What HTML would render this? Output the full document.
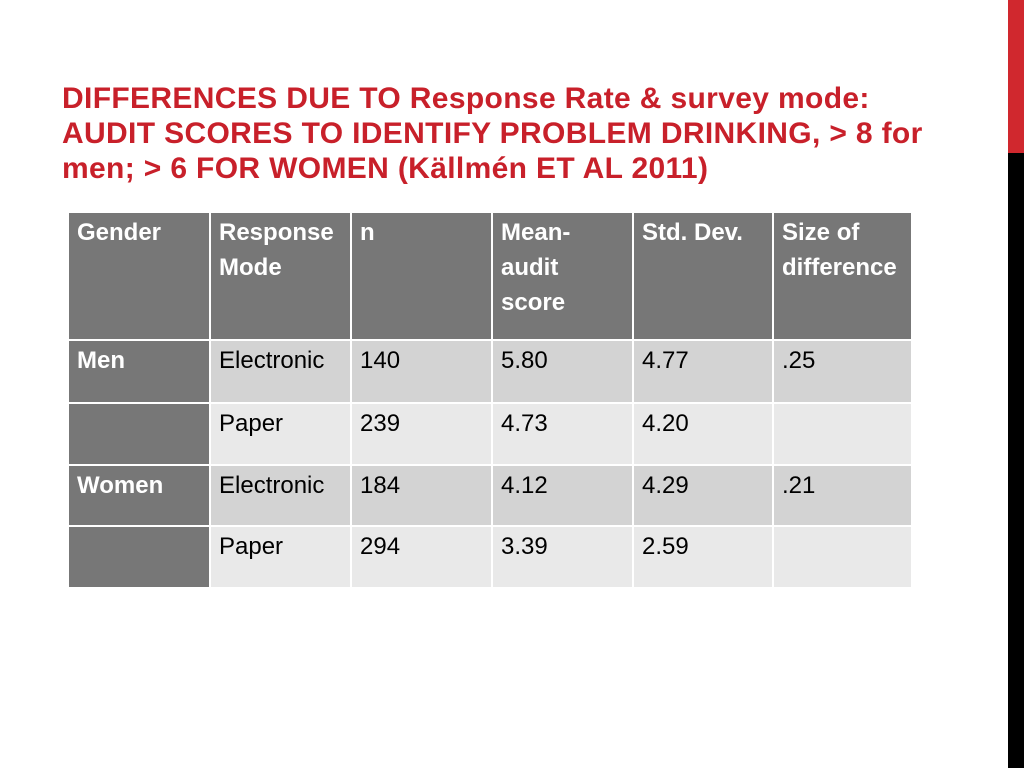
<!DOCTYPE html>
<html><head><meta charset="utf-8"><style>
body{margin:0;width:1024px;height:768px;background:#fff;position:relative;overflow:hidden;font-family:"Liberation Sans",sans-serif}
.bar1{position:absolute;left:1008px;top:0;width:16px;height:153px;background:#d0282e}
.bar2{position:absolute;left:1008px;top:153px;width:16px;height:615px;background:#000}
.title{position:absolute;left:62px;top:81px;width:940px;white-space:nowrap;font-weight:bold;font-size:30px;letter-spacing:0.35px;line-height:35px;color:#c8202a}
.c{position:absolute;box-sizing:border-box;padding:2px 8px;font-size:24px;line-height:35px;color:#000;white-space:nowrap}
.h{background:#777;color:#fff}
.d1{background:#d3d3d3}.d2{background:#e9e9e9}
.b{font-weight:bold}
</style></head><body>
<div class="bar1"></div>
<div class="bar2"></div>
<div class="title">DIFFERENCES DUE TO Response Rate &amp; survey mode:<br>AUDIT SCORES TO IDENTIFY PROBLEM DRINKING, &gt; 8 for<br>men; &gt; 6 FOR WOMEN (Källmén ET AL 2011)</div>
<div id="tbl"></div>
<script>
const xs=[69,211,352,493,634,774,913];
const ys=[213,341,404,466,527];
const ye=[339,402,464,525,587];
const header=["Gender","Response Mode","n","Mean-audit score","Std. Dev.","Size of difference"];
const rows=[["Men","Electronic","140","5.80","4.77",".25"],["","Paper","239","4.73","4.20",""],["Women","Electronic","184","4.12","4.29",".21"],["","Paper","294","3.39","2.59",""]];
const t=document.getElementById('tbl');
function cell(r,c,txt){
  const d=document.createElement('div');
  
  
  let cls='c ';
  if(r===0)cls+='h b';else if(c===0)cls+='h b';else cls+=(r%2?'d1':'d2');
  d.className=cls;
  d.style.left=xs[c]+'px';d.style.top=ys[r]+'px';
  d.style.width=(xs[c+1]-xs[c]-2)+'px';d.style.height=(ye[r]-ys[r])+'px';
  if(txt==="Mean-audit score")d.innerHTML="Mean-<br>audit<br>score";
  else if(txt==="Response Mode")d.innerHTML="Response<br>Mode";
  else if(txt==="Size of difference")d.innerHTML="Size of<br>difference";
  else d.textContent=txt;
  t.appendChild(d);
}
header.forEach((h,c)=>cell(0,c,h));
rows.forEach((row,i)=>row.forEach((v,c)=>cell(i+1,c,v)));
</script>
</body></html>
